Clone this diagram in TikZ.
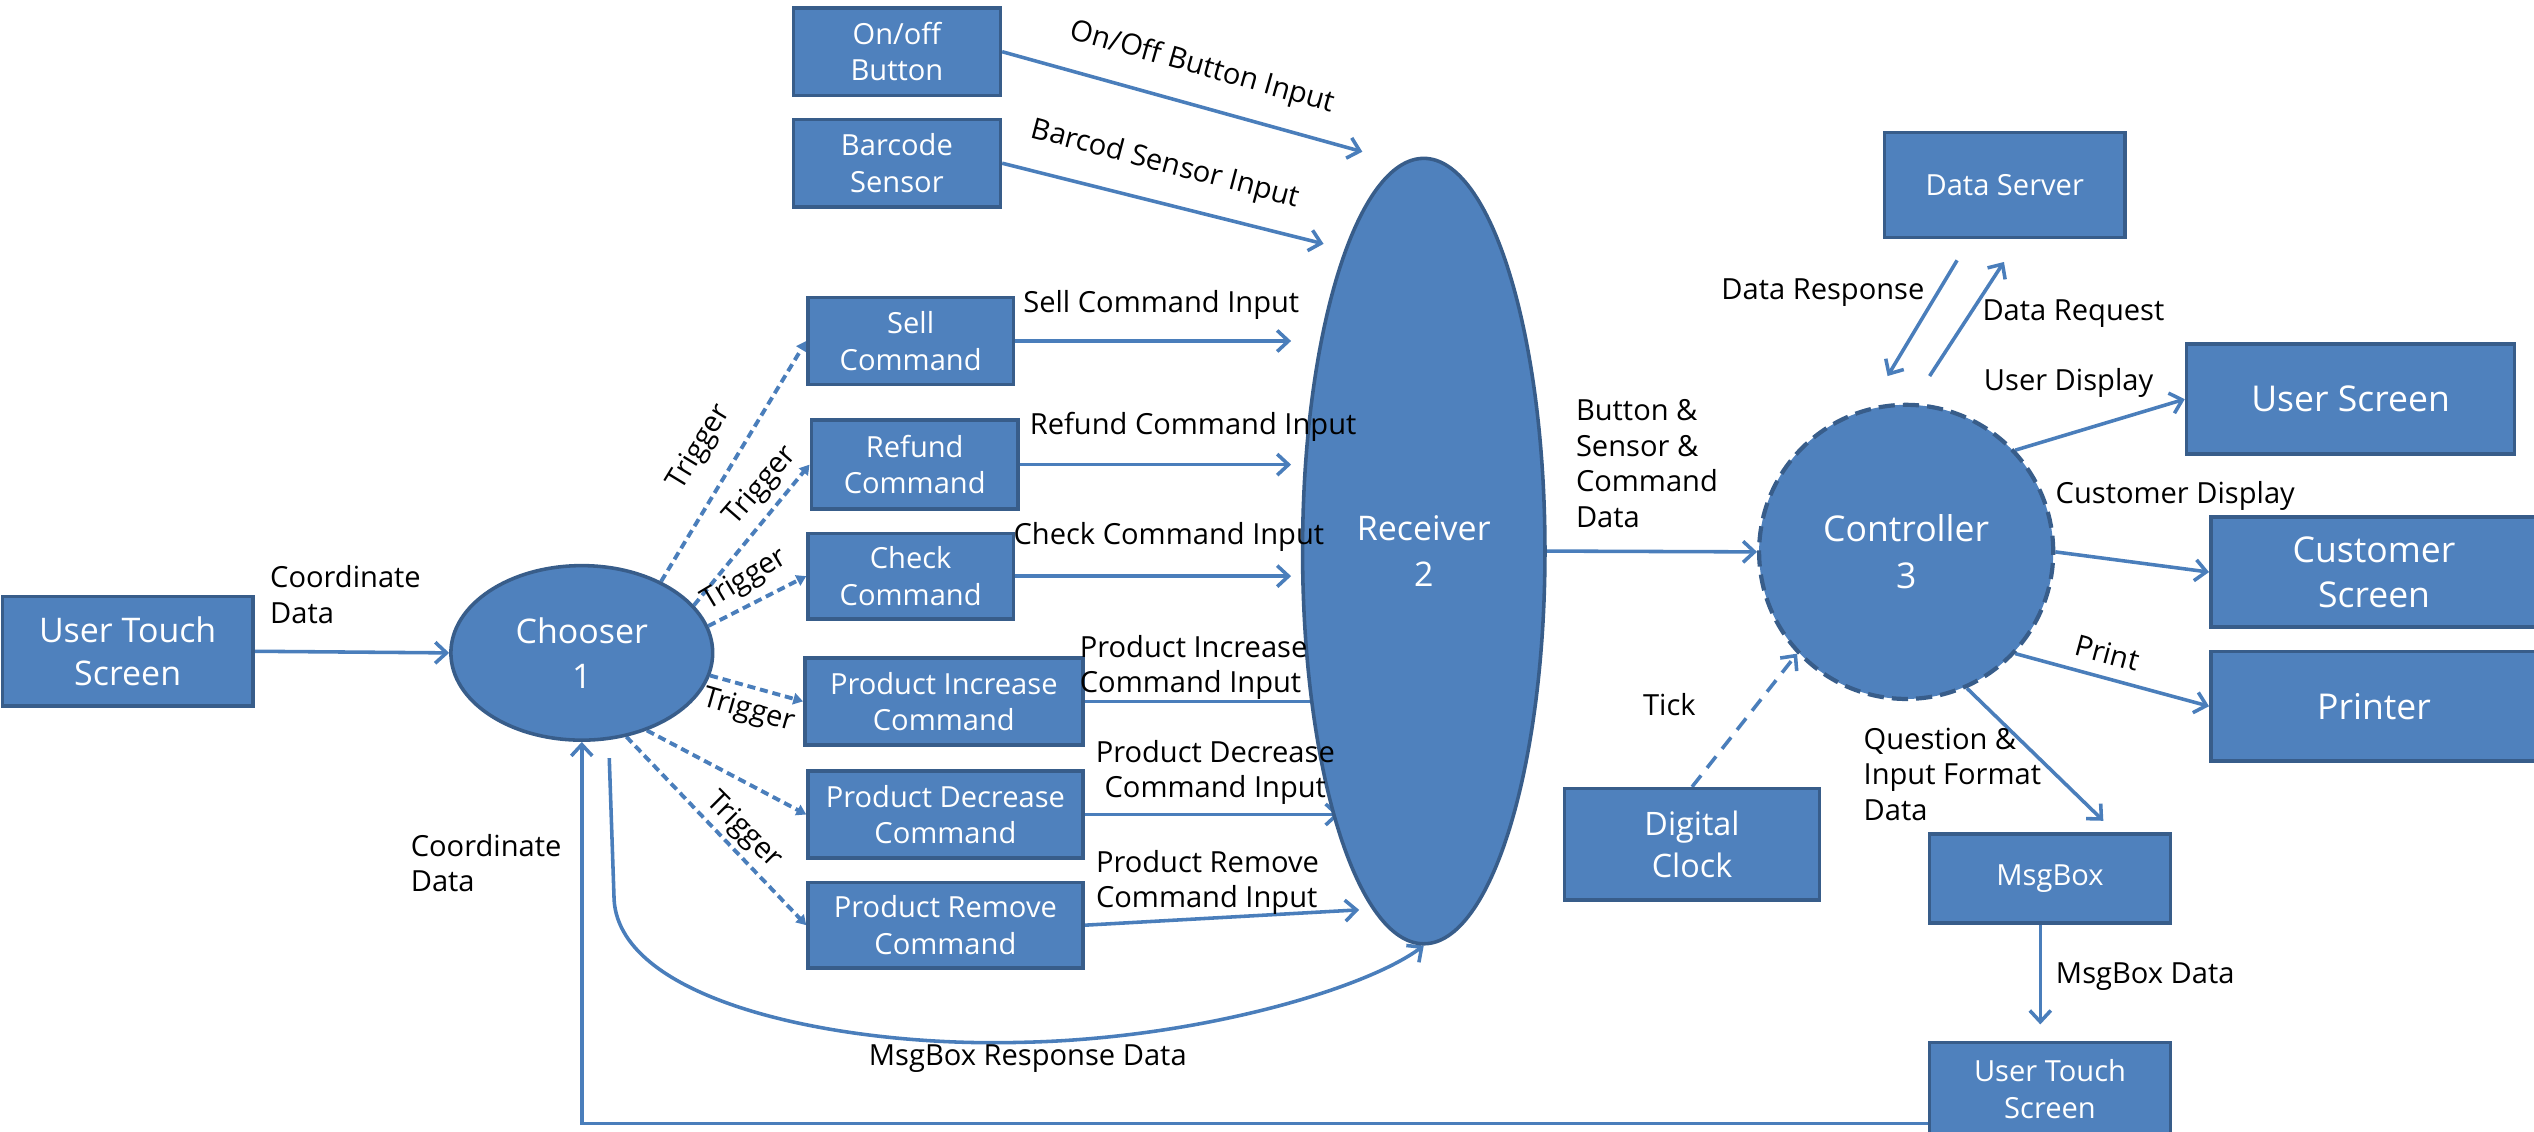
\documentclass[tikz,border=0pt]{standalone}
\usepackage{fontspec}
\setmainfont{Open Sans}
\usetikzlibrary{shapes.geometric,arrows.meta,calc}
\definecolor{boxfill}{HTML}{4F81BD}
\definecolor{boxedge}{HTML}{385D8A}
\definecolor{linecol}{HTML}{4A7EBB}
\pgfdeclarelayer{bg}
\pgfsetlayers{bg,main}
\begin{document}
\begin{tikzpicture}[x=1pt,y=-1pt,
  box/.style={rectangle, fill=boxfill, draw=boxedge, line width=2.2pt, text=white, align=center, inner sep=0pt, font=\fontsize{18}{22.5}\selectfont},
  bigbox/.style={box, font=\fontsize{21}{27}\selectfont},
  hugebox/.style={box, font=\fontsize{22}{28}\selectfont},
  proc/.style={ellipse, fill=boxfill, draw=boxedge, line width=2.2pt, text=white, align=center, inner sep=0pt, font=\fontsize{21}{28}\selectfont},
  flow/.style={draw=linecol, line width=2.2pt, -{Straight Barb[length=7pt,width=13pt]}},
  trig/.style={draw=linecol, line width=2.4pt, dash pattern=on 5pt off 3pt, -{Triangle[length=6pt,width=7pt]}},
  tickflow/.style={draw=linecol, line width=2.2pt, dash pattern=on 9pt off 6pt, -{Straight Barb[length=7pt,width=13pt]}},
  lbl/.style={text=black, inner sep=0pt, font=\fontsize{18}{22}\selectfont, align=left},
]
\useasboundingbox (0,0) rectangle (1568,700);

% boxes
\node[bigbox, minimum width=155pt, minimum height=68pt] (uts1) at (79,403) {User Touch\\Screen};
\node[box, minimum width=128pt, minimum height=54pt] (onoff) at (555,32) {On/off\\Button};
\node[box, minimum width=128pt, minimum height=54pt] (barcode) at (555,101) {Barcode\\Sensor};
\node[box, minimum width=127pt, minimum height=54pt] (sell) at (563.5,211) {Sell\\Command};
\node[box, minimum width=128pt, minimum height=55pt] (refund) at (566,287.5) {Refund\\Command};
\node[box, minimum width=127pt, minimum height=53pt] (check) at (563.5,356.5) {Check\\Command};
\node[box, minimum width=172pt, minimum height=54pt] (pinc) at (584,434) {Product Increase\\Command};
\node[box, minimum width=170pt, minimum height=54pt] (pdec) at (585,504) {Product Decrease\\Command};
\node[box, minimum width=170pt, minimum height=53pt] (prem) at (585,572.5) {Product Remove\\Command};
\node[box, minimum width=149pt, minimum height=65pt] (dataserver) at (1240.5,114.5) {Data Server};
\node[hugebox, minimum width=203pt, minimum height=68pt] (userscreen) at (1454.5,247) {User Screen};
\node[hugebox, minimum width=202pt, minimum height=68pt] (custscreen) at (1469,354) {Customer\\Screen};
\node[hugebox, minimum width=202pt, minimum height=68pt] (printer) at (1469,437) {Printer};
\node[box, font=\fontsize{20}{26}\selectfont, minimum width=158pt, minimum height=69pt] (clock) at (1047,522.5) {Digital\\Clock};
\node[box, minimum width=149pt, minimum height=55pt] (msgbox) at (1268.5,543.5) {MsgBox};
\node[box, minimum width=149pt, minimum height=58pt] (uts2) at (1268.5,674) {User Touch\\Screen};

% processes
\node[proc, minimum width=162pt, minimum height=108pt] (chooser) at (360,404) {Chooser\\1};
\node[proc, minimum width=150pt, minimum height=486pt] (receiver) at (881,341) {Receiver\\2};
\node[proc, shape=circle, minimum size=182pt, line width=2.6pt, dash pattern=on 10pt off 5pt, font=\fontsize{22}{29}\selectfont] (controller) at (1179.5,341.5) {Controller\\3};

% connectors
\begin{pgfonlayer}{bg}
\draw[flow] (uts1.east) -- (chooser.west);
\draw[flow] (onoff.east) -- ($(receiver.north)+(-38,-3)$);
\draw[flow] (barcode.east) -- ($(receiver.north)+(-62,54)$);
\draw[flow, shorten >=6pt] (sell.east) -- (receiver.west |- sell.east);
\draw[flow, shorten >=6pt] (refund.east) -- (receiver.west |- refund.east);
\draw[flow, shorten >=6pt] (check.east) -- (receiver.west |- check.east);
\draw[flow] (pinc.east) -- ($(receiver.west |- pinc.east)+(28,0)$);
\draw[flow] (pdec.east) -- ($(receiver.west |- pdec.east)+(24,0)$);
\draw[flow] (prem.east) -- ($(receiver.center)+(-40,222)$);

\draw[trig] (chooser.42) -- (sell.west);
\draw[trig] (chooser.23) -- (refund.west);
\draw[trig] (chooser.12) -- (check.west);
\draw[trig] (chooser.-10.6) -- (pinc.west);
\draw[trig] (chooser.-50) -- (pdec.west);
\draw[trig] (chooser.-62.6) -- (prem.west);

\draw[flow] ($(chooser.south)+(17,10)$) -- (380,557) .. controls (384,620) and (520,648) .. (631,645) .. controls (740,643) and (845,612) .. (receiver.south);
\draw[flow] ([yshift=9pt]uts2.south west) -| (chooser.south);

\draw[flow] (receiver.east) -- (controller.west);
\draw[flow] ($(dataserver.south)+(-29.5,13)$) -- ($(controller.north)+(-11.5,-16.5)$);
\draw[flow] ($(controller.north)+(14.5,-16.5)$) -- ($(dataserver.south)+(-0.5,14)$);
\draw[flow] (controller.43.7) -- (userscreen.west);
\draw[flow] (controller.east) -- (custscreen.west);
\draw[flow] (controller.-43.7) -- (printer.west);
\draw[flow] (controller.-66) -- ($(msgbox.north)+(33,-7)$);
\draw[tickflow] (clock.north) -- (controller.223.7);
\draw[flow] ([xshift=-6pt]msgbox.south) -- ([xshift=-6pt,yshift=10pt]uts2.north);
\end{pgfonlayer}

% labels
\node[lbl, anchor=west] (lcoord1) at (167,368) {Coordinate\\Data};
\node[lbl, rotate=-15.8] (lonoff) at (744,42) {On/Off Button Input};
\node[lbl, rotate=-14.7] (lbarcode) at (721,102) {Barcod Sensor Input};
\node[lbl, anchor=west] (lsell) at (633,189) {Sell Command Input};
\node[lbl, anchor=west] (lrefund) at (637,264) {Refund Command Input};
\node[lbl, anchor=west] (lcheck) at (627,332) {Check Command Input};
\node[lbl, anchor=west] (lpinc) at (668,413) {Product Increase\\Command Input};
\node[lbl, align=center] (lpdec) at (752,478) {Product Decrease\\Command Input};
\node[lbl, anchor=west] (lprem) at (678,546) {Product Remove\\Command Input};
\node[lbl] (lmsgresp) at (636,655) {MsgBox Response Data};
\node[lbl, anchor=west] (lcoord2) at (254,534) {Coordinate\\Data};
\node[lbl, rotate=58.7] (ltrig1) at (433,277) {Trigger};
\node[lbl, rotate=49] (ltrig2) at (471,301) {Trigger};
\node[lbl, rotate=31] (ltrig3) at (461,359) {Trigger};
\node[lbl, rotate=-16] (ltrig4) at (463,440) {Trigger};
\node[lbl, rotate=-45] (ltrig5) at (460,514) {Trigger};
\node[lbl, anchor=west] (lbsc) at (975,287) {Button \&\\Sensor \&\\Command\\Data};
\node[lbl] (lresp) at (1128,181) {Data Response};
\node[lbl] (lreq) at (1283,194) {Data Request};
\node[lbl] (luserdisp) at (1280,237) {User Display};
\node[lbl] (lcustdisp) at (1346,307) {Customer Display};
\node[lbl, rotate=-15] (lprint) at (1304,404) {Print};
\node[lbl] (ltick) at (1033,436) {Tick};
\node[lbl, anchor=west] (lquest) at (1153,479) {Question \&\\Input Format\\Data};
\node[lbl, anchor=west] (lmsgdata) at (1272,604) {MsgBox Data};
\end{tikzpicture}
\end{document}
